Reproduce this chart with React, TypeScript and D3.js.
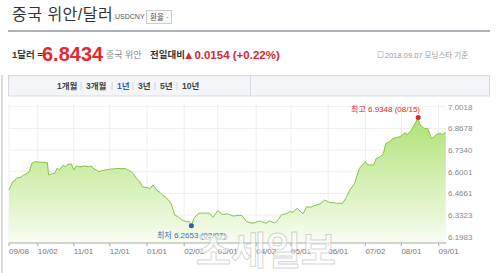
import React from "react";
import * as d3 from "d3";

const dates = [
  "2017-09-08","2017-09-11","2017-09-13","2017-09-14","2017-09-18","2017-09-20","2017-09-22","2017-09-25","2017-09-27","2017-09-29",
  "2017-10-10","2017-10-11","2017-10-13","2017-10-16","2017-10-18","2017-10-20","2017-10-23","2017-10-25","2017-10-27","2017-10-30",
  "2017-11-01","2017-11-03","2017-11-07","2017-11-10","2017-11-13","2017-11-16","2017-11-17","2017-11-20","2017-11-22","2017-11-24","2017-11-28",
  "2017-12-01","2017-12-05","2017-12-07","2017-12-11","2017-12-14","2017-12-15","2017-12-19","2017-12-21","2017-12-23","2017-12-26","2017-12-28",
  "2018-01-02","2018-01-03","2018-01-06","2018-01-09","2018-01-12","2018-01-14","2018-01-17","2018-01-21","2018-01-24","2018-01-27","2018-01-30",
  "2018-02-03","2018-02-05","2018-02-07","2018-02-09","2018-02-13","2018-02-17","2018-02-22","2018-02-25",
  "2018-03-01","2018-03-05","2018-03-09","2018-03-14","2018-03-18","2018-03-21","2018-03-25","2018-03-30",
  "2018-04-05","2018-04-10","2018-04-13","2018-04-17","2018-04-19","2018-04-23","2018-04-27","2018-04-30",
  "2018-05-03","2018-05-06","2018-05-11","2018-05-14","2018-05-17","2018-05-22","2018-05-25","2018-05-29",
  "2018-06-02","2018-06-08","2018-06-13","2018-06-16","2018-06-19","2018-06-23","2018-06-27",
  "2018-07-02","2018-07-04","2018-07-09","2018-07-11","2018-07-14","2018-07-17","2018-07-19","2018-07-22","2018-07-25","2018-07-28","2018-07-31",
  "2018-08-02","2018-08-04","2018-08-06","2018-08-09","2018-08-11","2018-08-15","2018-08-16","2018-08-18","2018-08-20","2018-08-23","2018-08-26","2018-08-28","2018-08-30",
  "2018-09-02","2018-09-04","2018-09-07"
];

const values = [
  6.487,6.538,6.545,6.559,6.566,6.580,6.585,6.600,6.652,6.662,
  6.656,6.580,6.585,6.590,6.621,6.612,6.640,6.632,6.645,6.648,
  6.610,6.635,6.630,6.636,6.631,6.634,6.622,6.610,6.600,6.606,6.612,
  6.615,6.618,6.621,6.618,6.621,6.615,6.600,6.585,6.559,6.540,6.507,
  6.500,6.493,6.518,6.487,6.470,6.456,6.440,6.405,6.333,6.320,6.302,
  6.291,6.295,6.2653,6.312,6.343,6.345,6.343,6.318,
  6.359,6.335,6.340,6.326,6.330,6.330,6.291,6.281,
  6.296,6.281,6.296,6.284,6.291,6.333,6.340,6.353,
  6.350,6.374,6.339,6.384,6.380,6.394,6.400,6.425,
  6.410,6.405,6.405,6.440,6.487,6.528,6.621,
  6.662,6.642,6.642,6.683,6.690,6.713,6.775,6.785,6.806,6.812,6.816,
  6.830,6.841,6.830,6.855,6.878,6.9348,6.899,6.880,6.868,6.868,6.806,6.815,6.830,
  6.837,6.830,6.8434
];

const yTicks = [7.0018, 6.8678, 6.734, 6.6001, 6.4661, 6.3323, 6.1983];
const yTickLabels = ["7.0018", "6.8678", "6.7340", "6.6001", "6.4661", "6.3323", "6.1983"];
const xTickDates = ["2017-09-08","2017-10-02","2017-11-01","2017-12-01","2018-01-01","2018-02-01","2018-03-01","2018-04-02","2018-05-01","2018-06-01","2018-07-02","2018-08-01","2018-09-01"];
const tabs = ["1개월", "3개월", "1년", "3년", "5년", "10년"];
const tabX = [57, 86, 117, 138, 160, 182];

const FONT = "'Liberation Sans', 'Noto Sans CJK KR', sans-serif";

export default function App() {
  const parse = d3.utcParse("%Y-%m-%d");
  const data = dates.map((d, i) => ({ date: parse(d) as Date, value: values[i] }));
  const x = d3.scaleUtc().domain([parse("2017-09-08") as Date, parse("2018-09-07") as Date]).range([9, 445.8]);
  const y = d3.scaleLinear().domain([6.1983, 7.0018]).range([236.7, 106.7]);
  const axisY = 243;
  const line = d3.line<any>().x(d => x(d.date)).y(d => y(d.value));
  const area = d3.area<any>().x(d => x(d.date)).y0(axisY).y1(d => y(d.value));
  const fmt = d3.utcFormat("%m/%d");
  const hi = data.reduce((a, b) => (b.value > a.value ? b : a));
  const lo = data.reduce((a, b) => (b.value < a.value ? b : a));

  return (
    <svg width={500} height={273} style={{ position: "absolute", left: 0, top: 0, background: "#fff" }} fontFamily={FONT}>
      <defs>
        <linearGradient id="g" x1="0" y1="0" x2="0" y2="1">
          <stop offset="0%" stopColor="#aee274" />
          <stop offset="100%" stopColor="#f8fdf2" />
        </linearGradient>
      </defs>
      {/* header */}
      <text x={12} y={20} fontSize={16} fill="#333" letterSpacing={0.5}>중국 위안/달러</text>
      <text x={115} y={19} fontSize={7} fill="#555">USDCNY</text>
      <rect x={146.5} y={10.5} width={25} height={13} fill="#fafafa" stroke="#ccc" />
      <text x={150} y={20} fontSize={7.5} fill="#555">환율 ·</text>
      <line x1={8} x2={490} y1={31} y2={31} stroke="#5b6270" strokeWidth={1.2} />

      <text x={12} y={58} fontSize={9.5} fontWeight="bold" fill="#333">1달러 =</text>
      <text x={42} y={61} fontSize={20} fontWeight="bold" fill="#e8262e">6.8434</text>
      <text x={106} y={58} fontSize={9} fill="#888">중국 위안</text>
      <text x={150} y={58} fontSize={9.5} fontWeight="bold" fill="#333">전일대비</text>
      <text x={183} y={59} fontSize={11.5} fontWeight="bold" fill="#d9262e">▲0.0154 (+0.22%)</text>
      <rect x={378} y={51.5} width={5} height={6} fill="none" stroke="#bbb" strokeWidth={0.8} />
      <text x={385} y={58} fontSize={7.5} fill="#999">2018.09.07  모닝스타 기준</text>

      {/* tabs */}
      <line x1={2} x2={2} y1={75} y2={273} stroke="#d0d0d0" strokeWidth={1.5} />
      <rect x={8.5} y={75.5} width={481} height={20.5} fill="#f3f5f8" stroke="#d6dae0" />
      <line x1={250.5} x2={250.5} y1={75.5} y2={96} stroke="#d6dae0" />
      {tabs.map((t, i) => (
        <g key={t}>
          <text x={tabX[i]} y={89} fontSize={8.5} fontWeight="bold" fill={t === "1년" ? "#3462b8" : "#444"}>{t}</text>
          {i > 0 && <line x1={tabX[i] - 5} x2={tabX[i] - 5} y1={82} y2={90} stroke="#d0d4da" />}
        </g>
      ))}

      {/* grid */}
      {yTicks.map((v, i) => (
        <line key={"h" + i} x1={9} x2={446} y1={y(v)} y2={y(v)} stroke="#eeeeee" />
      ))}
      {xTickDates.map(d => (
        <line key={"v" + d} x1={x(parse(d) as Date)} x2={x(parse(d) as Date)} y1={103} y2={axisY} stroke="#eeeeee" />
      ))}

      <path d={area(data) || ""} fill="url(#g)" />
      <path d={line(data) || ""} fill="none" stroke="#85c446" strokeWidth={1} />

      {/* axis */}
      <line x1={9} x2={446} y1={axisY} y2={axisY} stroke="#aaa" />
      {xTickDates.map(d => {
        const px = x(parse(d) as Date);
        return (
          <g key={"t" + d}>
            <line x1={px} x2={px} y1={axisY} y2={axisY + 3} stroke="#aaa" />
            <text x={px} y={254} fontSize={8} fill="#777">{fmt(parse(d) as Date)}</text>
          </g>
        );
      })}
      {yTicks.map((v, i) => (
        <text key={"yl" + i} x={448} y={y(v) + 3} fontSize={8} fill="#888">{yTickLabels[i]}</text>
      ))}

      {/* markers */}
      <circle cx={x(hi.date)} cy={y(hi.value)} r={2.5} fill="#e0262e" />
      <text x={420} y={111.5} fontSize={8} fill="#e0262e" textAnchor="end">최고 6.9348 (08/15)</text>
      <circle cx={x(lo.date)} cy={y(lo.value)} r={2.5} fill="#2c5fa8" />
      <text x={157} y={238} fontSize={8} fill="#3a6fb5">최저 6.2653 (02/07)</text>

      {/* watermark */}
      <text x={196} y={264} fontSize={38} fontWeight="bold" fill="rgba(255,255,255,0.55)" stroke="rgba(160,160,160,0.45)" strokeWidth={1}>조세일보</text>
    </svg>
  );
}
